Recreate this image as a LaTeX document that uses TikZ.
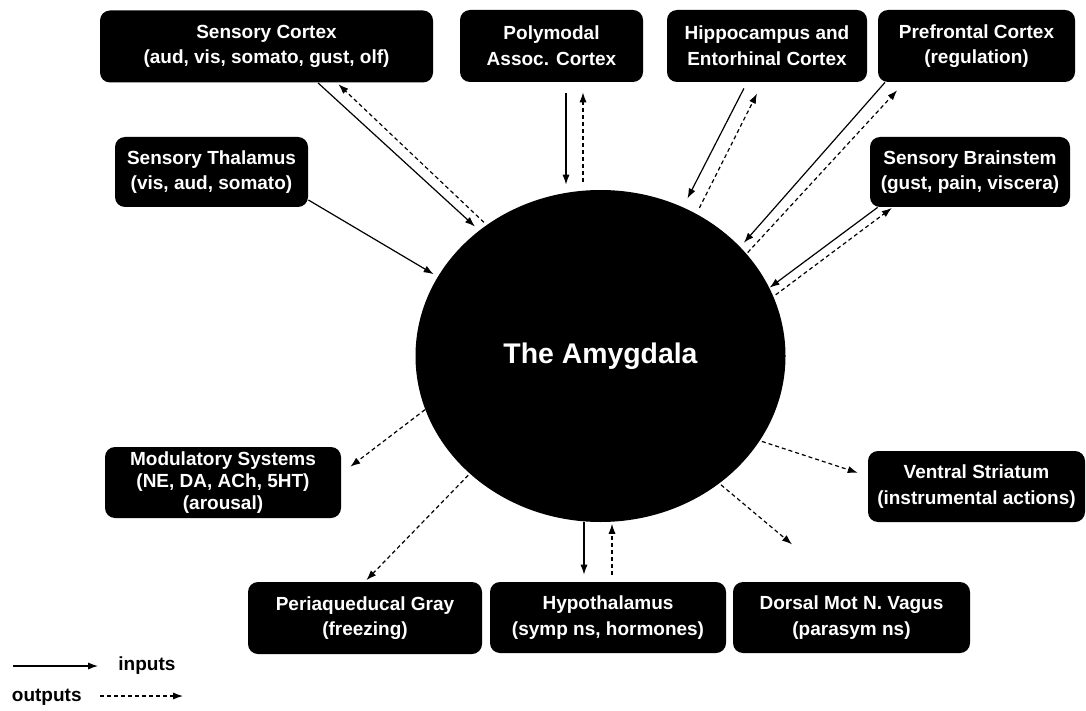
\documentclass[tikz,border=0pt]{standalone}
\usepackage{fontspec}
\setmainfont{Liberation Sans}
\usetikzlibrary{shapes.geometric,arrows.meta}

\begin{document}
\begin{tikzpicture}[x=0.5pt, y=-0.5pt,
    region/.style={rectangle, rounded corners=5pt, fill=black, text=white, align=center,
      font=\bfseries\fontsize{9.5}{12.8}\selectfont, minimum height=36pt, inner sep=0pt},
    input/.style={-{Latex[length=5pt,width=3.6pt]}, line width=0.6pt},
    output/.style={input, dash pattern=on 2pt off 1.5pt}]
  \useasboundingbox (0,0) rectangle (1086,711);

  % the amygdala
  \node[ellipse, fill=black, minimum width=185pt, minimum height=166pt, inner sep=0pt,
    text=white, font=\bfseries\fontsize{14.2}{17}\selectfont] (amygdala) at (600.5,356) {The Amygdala};

  % regions
  \node[region, minimum width=166.5pt] (senscortex) at (266.5,46.5) {Sensory Cortex\\(aud, vis, somato, gust, olf)};
  \node[region, minimum width=96.5pt, minimum height=35pt] (sensthal) at (211.5,172) {Sensory Thalamus\\(vis, aud, somato)};
  \node[region, minimum width=91.5pt] (polymodal) at (551.5,46) {Polymodal\\Assoc. Cortex};
  \node[region, minimum width=100pt] (hippo) at (767,46) {Hippocampus and\\Entorhinal Cortex};
  \node[region, minimum width=98.5pt] (prefrontal) at (976.5,46) {Prefrontal Cortex\\(regulation)};
  \node[region, minimum width=100pt, minimum height=35pt] (brainstem) at (970,172) {Sensory Brainstem\\(gust, pain, viscera)};
  \node[region, minimum width=118pt, minimum height=35.5pt] (modulatory) at (223,482.5) {Modulatory Systems\\[-1.6pt](NE, DA, ACh, 5HT)\\[-1.6pt](arousal)};
  \node[region, minimum width=117pt] (pag) at (365,618) {Periaqueducal Gray\\(freezing)};
  \node[region, minimum width=118pt, minimum height=35.5pt] (hypothal) at (608,617.5) {Hypothalamus\\(symp ns, hormones)};
  \node[region, minimum width=118.5pt, minimum height=35.5pt] (vagus) at (851.5,617.5) {Dorsal Mot N. Vagus\\(parasym ns)};
  \node[region, minimum width=108.5pt, minimum height=35.5pt] (striatum) at (976.5,486.5) {Ventral Striatum\\(instrumental actions)};

  % inputs and outputs
  \draw[input, shorten >=2.8pt] ([xshift=25.75pt]senscortex.south) -- (amygdala.134.8);
  \draw[output, shorten <=1.8pt, shorten >=1pt] (amygdala.131.3) -- ([xshift=35.25pt]senscortex.south);
  \draw[input, shorten >=2.3pt] ([yshift=-14pt]sensthal.east) -- (amygdala.154.8);
  \draw[input, shorten <=5.5pt, shorten >=2.5pt] ([xshift=7.25pt]polymodal.south) -- ([xshift=-17.25pt]amygdala.north);
  \draw[output, shorten <=4pt, shorten >=5pt] ([xshift=-8.75pt]amygdala.north) -- ([xshift=15.75pt]polymodal.south);
  \draw[input, shorten <=3.4pt, shorten >=4.8pt] ([xshift=-10pt]hippo.south) -- (amygdala.61.7);
  \draw[output, shorten <=3.2pt, shorten >=6.2pt] (amygdala.56.5) -- ([xshift=-2.2pt]hippo.south);
  \draw[input, shorten >=2.7pt] ([xshift=-45.75pt]prefrontal.south) -- (amygdala.38.3);
  \draw[output, shorten <=0.75pt, shorten >=5.4pt] (amygdala.35) -- ([xshift=-36pt]prefrontal.south);
  \draw[input] ([xshift=4pt]brainstem.south west) -- (amygdala.22.9);
  \draw[output, shorten <=1.3pt, shorten >=0.5pt] (amygdala.19.2) -- ([xshift=11.5pt]brainstem.south west);

  \draw[output, shorten >=5.6pt] (amygdala.197.7) -- ([yshift=4.5pt]modulatory.east);
  \draw[output, shorten <=1pt, shorten >=1pt] (amygdala.222) -- (pag.north);
  \draw[input, shorten >=3.5pt] ([xshift=-8.25pt]amygdala.south) -- ([xshift=-12pt]hypothal.north);
  \draw[output, shorten <=3.5pt, shorten >=0.7pt] ([xshift=2pt]hypothal.north) -- ([xshift=5.75pt]amygdala.south);
  \draw[output, shorten <=1pt, shorten >=5.2pt] (amygdala.-28.5) -- ([yshift=5.25pt]striatum.west);
  \draw[output, shorten <=1pt, shorten >=29pt] (amygdala.-47.1) -- ([xshift=-7.5pt]vagus.north);

  % legend
  \coordinate (inA) at (13,666);
  \coordinate (inB) at (98,666);
  \coordinate (outA) at (100,696);
  \coordinate (outB) at (183,696);
  \node[anchor=west, font=\bfseries\fontsize{9.5}{11}\selectfont, inner sep=0pt] (inputs) at (118,666) {inputs};
  \node[anchor=east, font=\bfseries\fontsize{9.5}{11}\selectfont, inner sep=0pt] (outputs) at (82,697) {outputs};
  \draw[input] (inA) -- (inB);
  \draw[output] (outA) -- (outB);
\end{tikzpicture}
\end{document}
